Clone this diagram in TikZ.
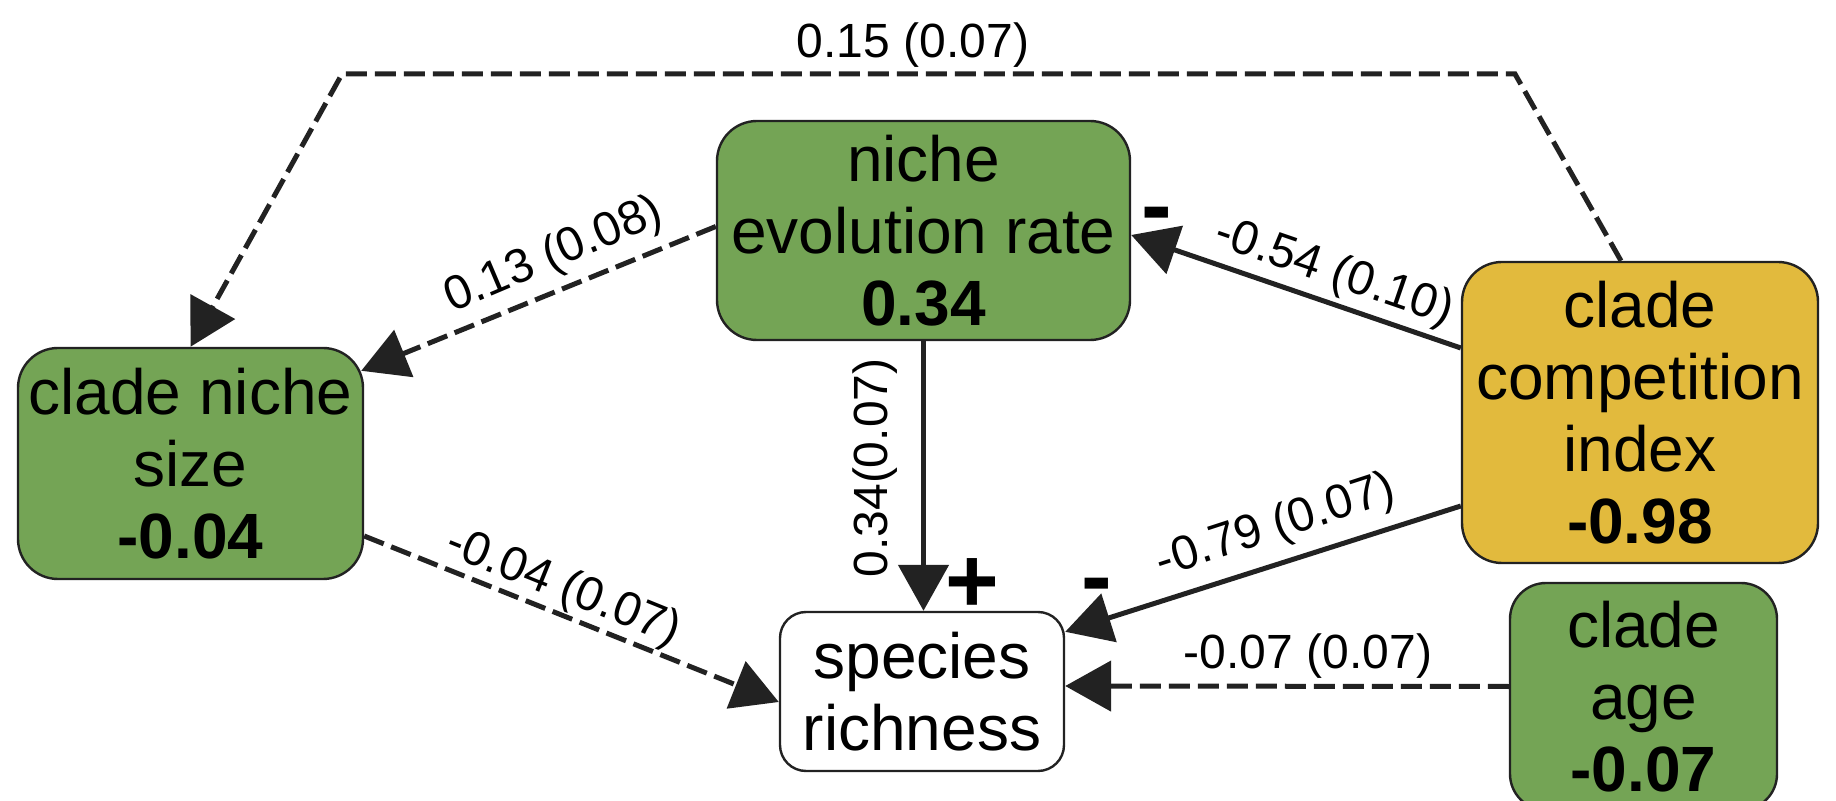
\documentclass[tikz,border=0pt]{standalone}
\usepackage{fontspec}
\setmainfont{Liberation Sans}
\usetikzlibrary{arrows.meta,calc}
\definecolor{boxgreen}{RGB}{116,164,85}
\definecolor{boxyellow}{RGB}{226,186,61}
\definecolor{ink}{RGB}{34,34,34}
\begin{document}
\begin{tikzpicture}[x=0.5pt,y=-0.5pt,
  box/.style={draw=ink, line width=1.2pt, rounded corners=20pt, align=center, inner sep=0pt, font=\fontsize{32}{36}\selectfont},
  conn/.style={draw=ink, line width=2.5pt, -{Triangle[length=23pt,width=25pt]}},
  dconn/.style={conn, dash pattern=on 10.5pt off 4pt},
  lab/.style={font=\fontsize{24}{28}\selectfont, inner sep=0pt},
  sign/.style={font=\fontsize{46}{46}\selectfont\bfseries, inner sep=0pt, anchor=base},
]
\clip (0,0) rectangle (1836,801);
\node[box, fill=boxgreen, minimum width=206.5pt, minimum height=109.5pt] (ner) at (923.5,230.5) {niche\\evolution rate\\\textbf{0.34}};
\node[box, fill=boxgreen, minimum width=172.5pt, minimum height=115.5pt] (cns) at (190.5,463.5) {clade niche\\size\\\textbf{-0.04}};
\node[box, fill=white, rounded corners=13pt, minimum width=142pt, minimum height=79.5pt] (sr) at (922,691.5) {species\\richness};
\node[box, fill=boxyellow, minimum width=178pt, minimum height=150.5pt] (cci) at (1640,412.5) {clade\\competition\\index\\\textbf{-0.98}};
\node[box, fill=boxgreen, rounded corners=18pt, minimum width=133.5pt, minimum height=113.5pt] (ca) at (1643.5,696.5) {clade\\age\\\textbf{-0.07}};

\coordinate (tr) at (1515,74);
\coordinate (tl) at (342,74);
\draw[dconn] ($(cci.north)+(-19,0)$) -- (tr) -- (tl) -- (cns.north);
\draw[dconn] ($(ner.west)+(0,-4)$) -- ($(cns.north east)+(-3,24)$);
\draw[conn] (ner.south) -- (ner.south |- sr.north);
\draw[conn] ($(cci.west)+(0,-64.5)$) -- ($(ner.east)+(0,4.5)$);
\draw[conn] ($(cci.west)+(0,93.5)$) -- ($(sr.north east)+(0,21)$);
\draw[dconn] ($(cns.east)+(0,72.5)$) -- ($(sr.west)+(0,10.5)$);
\draw[dconn] ($(ca.west)+(0,-10)$) -- ($(sr.east)+(0,-5.5)$);

\node[lab] (l15) at (913,45) {0.15 (0.07)};
\node[lab, rotate=23] (l13) at (554,256) {0.13 (0.08)};
\node[lab, rotate=90] (l34) at (875,468) {0.34(0.07)};
\node[lab, rotate=-19] (l54) at (1334,273) {-0.54 (0.10)};
\node[lab, rotate=18] (l79) at (1276,527) {-0.79 (0.07)};
\node[lab, rotate=-22] (l04) at (563,588) {-0.04 (0.07)};
\node[lab] (l07) at (1308,656) {-0.07 (0.07)};

\node[sign] (plus) at (972,612) {+};
\node[sign] (m1) at (1157,237) {-};
\node[sign] (m2) at (1097,608) {-};
\end{tikzpicture}
\end{document}
